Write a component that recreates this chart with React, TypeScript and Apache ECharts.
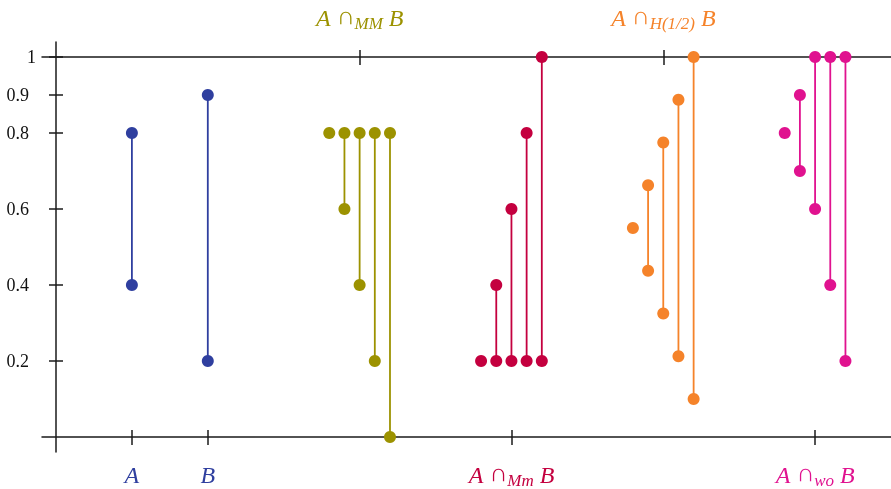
import React, { useEffect, useRef } from 'react';
import * as echarts from 'echarts';

// ---- data ----
const categoryKeys = ['A', 'B', 'MM', 'Mm', 'H(1/2)', 'wo'];
const categoryPositions = [1, 2, 4, 6, 8, 10];
const labelSides = ['bottom', 'bottom', 'top', 'bottom', 'top', 'bottom'];
const colors = ['#2f3f9f', '#2f3f9f', '#9c9200', '#c4003f', '#f5832a', '#e0128f'];
const subOffsets = [-0.4, -0.2, 0, 0.2, 0.4];

const lowA = [0.4];
const highA = [0.8];
const lowB = [0.2];
const highB = [0.9];
const lowMM = [0.8, 0.6, 0.4, 0.2, 0];
const highMM = [0.8, 0.8, 0.8, 0.8, 0.8];
const lowMm = [0.2, 0.2, 0.2, 0.2, 0.2];
const highMm = [0.2, 0.4, 0.6, 0.8, 1];
const lowH = [0.55, 0.4375, 0.325, 0.2125, 0.1];
const highH = [0.55, 0.6625, 0.775, 0.8875, 1];
const lowWo = [0.8, 0.7, 0.6, 0.4, 0.2];
const highWo = [0.8, 0.9, 1, 1, 1];

const yTickValues = [0.2, 0.4, 0.6, 0.8, 0.9, 1];

const lows = [lowA, lowB, lowMM, lowMm, lowH, lowWo];
const highs = [highA, highB, highMM, highMm, highH, highWo];

const FONT = "'Liberation Serif', 'Times New Roman', serif";
const X_MIN = -14 / 76;
const X_MAX = 11;
const Y_MIN = -15 / 380;
const Y_MAX = 1 + 15 / 380;

function buildRich() {
  const rich: any = {
    y: { fontSize: 18, fontFamily: FONT, color: '#111', padding: [0, 7, 0, 0] },
    y1: { fontSize: 18, fontFamily: FONT, color: '#111' },
  };
  colors.forEach((c, k) => {
    rich['i' + k] = { fontSize: 24, fontStyle: 'italic', fontFamily: FONT, color: c, lineHeight: 24 };
    rich['n' + k] = { fontSize: 25, fontFamily: FONT, color: c, lineHeight: 18, padding: [0, 0, 6, 0] };
    rich['s' + k] = { fontSize: 17, fontStyle: 'italic', fontFamily: FONT, color: c, lineHeight: 14, padding: [10, 0, 0, 0] };
  });
  return rich;
}

function catLabel(value: number) {
  const k = categoryPositions.indexOf(value);
  if (k < 0) return '';
  const key = categoryKeys[k];
  if (key === 'A' || key === 'B') return `{i${k}|${key}}`;
  return `{i${k}|A }{n${k}|∩}{s${k}|${key}}{i${k}| B}`;
}

const bottomValues = categoryPositions.filter((_, k) => labelSides[k] === 'bottom');
const topValues = categoryPositions.filter((_, k) => labelSides[k] === 'top');

export default function App() {
  const ref = useRef<HTMLDivElement>(null);
  useEffect(() => {
    if (!ref.current) return;
    const chart = echarts.init(ref.current, null, { renderer: 'svg' });
    const rich = buildRich();
    const lineStyle = { color: '#1a1a1a', width: 1.5 };
    const baseX = { type: 'value', min: X_MIN, max: X_MAX, splitLine: { show: false } };
    const baseY = { type: 'value', min: Y_MIN, max: Y_MAX, splitLine: { show: false } };

    const series = categoryPositions.map((pos, k) => {
      const lo = lows[k];
      const hi = highs[k];
      const offs = lo.length === 1 ? [0] : subOffsets;
      const data = lo.map((v, i) => [pos + offs[i], v, hi[i]]);
      const color = colors[k];
      return {
        type: 'custom',
        coordinateSystem: 'cartesian2d',
        xAxisIndex: 0,
        yAxisIndex: 0,
        data,
        encode: { x: 0, y: [1, 2] },
        clip: false,
        renderItem: (params: any, api: any) => {
          const x = api.value(0);
          const a = api.value(1);
          const b = api.value(2);
          const p1 = api.coord([x, a]);
          const p2 = api.coord([x, b]);
          const children: any[] = [];
          const same = Math.abs(a - b) < 1e-9;
          if (!same) {
            children.push({
              type: 'line',
              shape: { x1: p1[0], y1: p1[1], x2: p2[0], y2: p2[1] },
              style: { stroke: color, lineWidth: 1.8 },
            });
          }
          children.push({ type: 'circle', shape: { cx: p1[0], cy: p1[1], r: 6 }, style: { fill: color } });
          if (!same) {
            children.push({ type: 'circle', shape: { cx: p2[0], cy: p2[1], r: 6 }, style: { fill: color } });
          }
          return { type: 'group', children };
        },
      };
    });

    chart.setOption({
      animation: false,
      grid: { left: 42, right: 0, top: 42, bottom: 37, outerBoundsMode: 'none', containLabel: false },
      xAxis: [
        {
          ...baseX,
          position: 'bottom',
          offset: -15,
          axisLine: { show: true, onZero: false, lineStyle },
          axisTick: { show: false },
          axisLabel: {
            show: true,
            customValues: bottomValues,
            formatter: (v: number) => catLabel(v),
            rich,
            margin: 26,
          },
        },
        {
          ...baseX,
          position: 'bottom',
          offset: -7,
          axisLine: { show: false, onZero: false },
          axisTick: { show: true, inside: true, length: 15, customValues: bottomValues, lineStyle },
          axisLabel: { show: false },
        },
        {
          ...baseX,
          position: 'top',
          offset: -15,
          axisLine: { show: true, onZero: false, lineStyle },
          axisTick: { show: false },
          axisLabel: {
            show: true,
            customValues: topValues,
            formatter: (v: number) => catLabel(v),
            rich,
            margin: 27,
          },
        },
        {
          ...baseX,
          position: 'top',
          offset: -8,
          axisLine: { show: false, onZero: false },
          axisTick: { show: true, inside: true, length: 15, customValues: topValues, lineStyle },
          axisLabel: { show: false },
        },
      ],
      yAxis: [
        {
          ...baseY,
          position: 'left',
          offset: -14,
          axisLine: { show: true, onZero: false, lineStyle },
          axisTick: { show: false },
          axisLabel: {
            show: true,
            customValues: yTickValues,
            formatter: (v: number) => (v === 1 ? '{y1|1}' : `{y|${v}}`),
            rich,
            margin: 20,
          },
        },
        {
          ...baseY,
          position: 'left',
          offset: -7,
          axisLine: { show: false, onZero: false },
          axisTick: { show: true, inside: true, length: 14, customValues: yTickValues, lineStyle },
          axisLabel: { show: false },
        },
      ],
      series,
    });
    return () => chart.dispose();
  }, []);
  return <div ref={ref} style={{ width: 891, height: 489, position: 'fixed', left: 0, top: 0 }} />;
}
